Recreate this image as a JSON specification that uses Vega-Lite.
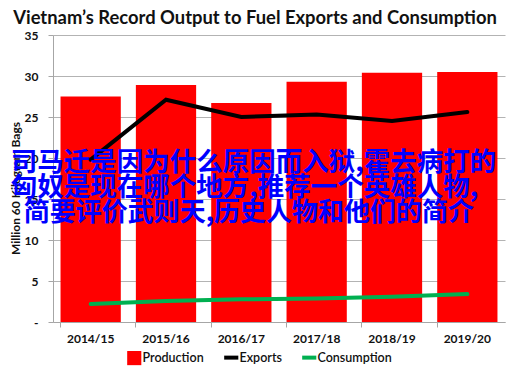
{
  "$schema": "https://vega.github.io/schema/vega-lite/v6.json",
  "autosize": "none",
  "width": 452,
  "height": 287,
  "padding": {"left": 53, "top": 35, "right": 8, "bottom": 48},
  "background": "white",
  "title": {
    "text": "Vietnam’s Record Output to Fuel Exports and Consumption",
    "font": "Lato",
    "fontSize": 18.4,
    "fontWeight": "bold",
    "color": "#111111",
    "anchor": "middle",
    "frame": "group",
    "dx": -24,
    "dy": 13,
    "offset": 0,
    "baseline": "alphabetic"
  },
  "config": {
    "view": {"stroke": null},
    "font": "Lato",
    "axisX": {"grid": false, "gridOpacity": 0},
    "axisBand": {"grid": false}
  },
  "data": {
    "values": [
      {"year": "2014/15", "Production": 27.5, "Exports": 19.8, "Consumption": 2.2},
      {"year": "2015/16", "Production": 28.9, "Exports": 27.1, "Consumption": 2.56},
      {"year": "2016/17", "Production": 26.7, "Exports": 25.0, "Consumption": 2.77},
      {"year": "2017/18", "Production": 29.3, "Exports": 25.3, "Consumption": 2.87},
      {"year": "2018/19", "Production": 30.4, "Exports": 24.5, "Consumption": 3.09},
      {"year": "2019/20", "Production": 30.5, "Exports": 25.6, "Consumption": 3.4}
    ]
  },
  "encoding": {
    "x": {
      "field": "year", "type": "nominal", "sort": null,
      "scale": {"paddingInner": 0.2, "paddingOuter": 0.1},
      "axis": {
        "title": null, "labelAngle": 0, "bandPosition": 0,
        "labelFont": "Lato", "labelFontSize": 12, "labelFontWeight": "bold", "labelColor": "#111111",
        "domainColor": "#A6A6A6", "tickColor": "#A6A6A6", "tickSize": 5, "labelPadding": 6,
        "grid": false
      }
    }
  },
  "layer": [
    {
      "mark": {"type": "bar"},
      "encoding": {
        "y": {
          "field": "Production", "type": "quantitative",
          "scale": {"domain": [0, 35]},
          "axis": {
            "title": "Million 60 Kilogram Bags",
            "titleFont": "Lato", "titleFontSize": 12, "titleFontWeight": "bold", "titleColor": "#111111",
            "titleX": -38, "titleY": 153, "titleAngle": -90, "titleAlign": "center", "titleBaseline": "middle",
            "values": [0, 5, 10, 15, 20, 25, 30, 35],
            "labelExpr": "datum.value == 0 ? '-' : datum.label",
            "labelFont": "Lato", "labelFontSize": 12, "labelFontWeight": "bold", "labelColor": "#111111",
            "labelPadding": 10,
            "domainColor": "#A6A6A6", "tickColor": "#A6A6A6", "tickSize": 5,
            "grid": true, "gridColor": "#B3B3B3", "gridWidth": 1
          }
        },
        "color": {
          "datum": "Production",
          "scale": {"domain": ["Production", "Exports", "Consumption"], "range": ["#FF0000", "#000000", "#00B050"]},
          "legend": {
            "title": null,
            "orient": "none",
            "legendX": 75,
            "legendY": 316,
            "direction": "horizontal",
            "labelFont": "Lato",
            "labelFontSize": 12.5,
            "labelFontWeight": 600,
            "labelColor": "#111111",
            "columnPadding": 12,
            "labelOffset": 2,
            "symbolSize": 200,
            "encode": {
              "symbols": {
                "update": {
                  "shape": {"signal": "datum.value === 'Production' ? 'square' : 'stroke'"},
                  "fill": {"signal": "datum.value === 'Production' ? '#FF0000' : 'transparent'"},
                  "stroke": {"signal": "datum.value === 'Production' ? '#FF0000' : (datum.value === 'Exports' ? '#000000' : '#00B050')"},
                  "strokeWidth": {"signal": "datum.value === 'Production' ? 0 : 4"},
                  "opacity": {"value": 1},
                  "fillOpacity": {"value": 1},
                  "strokeOpacity": {"value": 1}
                }
              }
            }
          }
        }
      }
    },
    {
      "mark": {"type": "line", "strokeWidth": 4, "strokeCap": "round"},
      "encoding": {
        "y": {"field": "Exports", "type": "quantitative"},
        "color": {"datum": "Exports"}
      }
    },
    {
      "mark": {"type": "line", "strokeWidth": 4, "strokeCap": "round"},
      "encoding": {
        "y": {"field": "Consumption", "type": "quantitative"},
        "color": {"datum": "Consumption"}
      }
    },
    {
      "data": {"values": [{"text": "司马迁是因为什么原因而入狱,霍去病打的"}]},
      "mark": {"type": "text", "align": "left", "baseline": "middle", "dx": -80, "font": "Noto Sans CJK SC", "fontSize": 26.5, "fontWeight": "bold", "color": "#0000FF"},
      "encoding": {
        "x": {"datum": "2014/15"},
        "y": {"datum": 19.4},
        "text": {"field": "text"}
      }
    },
    {
      "data": {"values": [{"text": "匈奴是现在哪个地方,推荐一个英雄人物,"}]},
      "mark": {"type": "text", "align": "left", "baseline": "middle", "dx": -80, "font": "Noto Sans CJK SC", "fontSize": 26.5, "fontWeight": "bold", "color": "#0000FF"},
      "encoding": {
        "x": {"datum": "2014/15"},
        "y": {"datum": 16.3},
        "text": {"field": "text"}
      }
    },
    {
      "data": {"values": [{"text": "简要评价武则天,历史人物和他们的简介"}]},
      "mark": {"type": "text", "align": "left", "baseline": "middle", "dx": -67, "font": "Noto Sans CJK SC", "fontSize": 26, "fontWeight": "bold", "color": "#0000FF"},
      "encoding": {
        "x": {"datum": "2014/15"},
        "y": {"datum": 13.3},
        "text": {"field": "text"}
      }
    }
  ]
}
